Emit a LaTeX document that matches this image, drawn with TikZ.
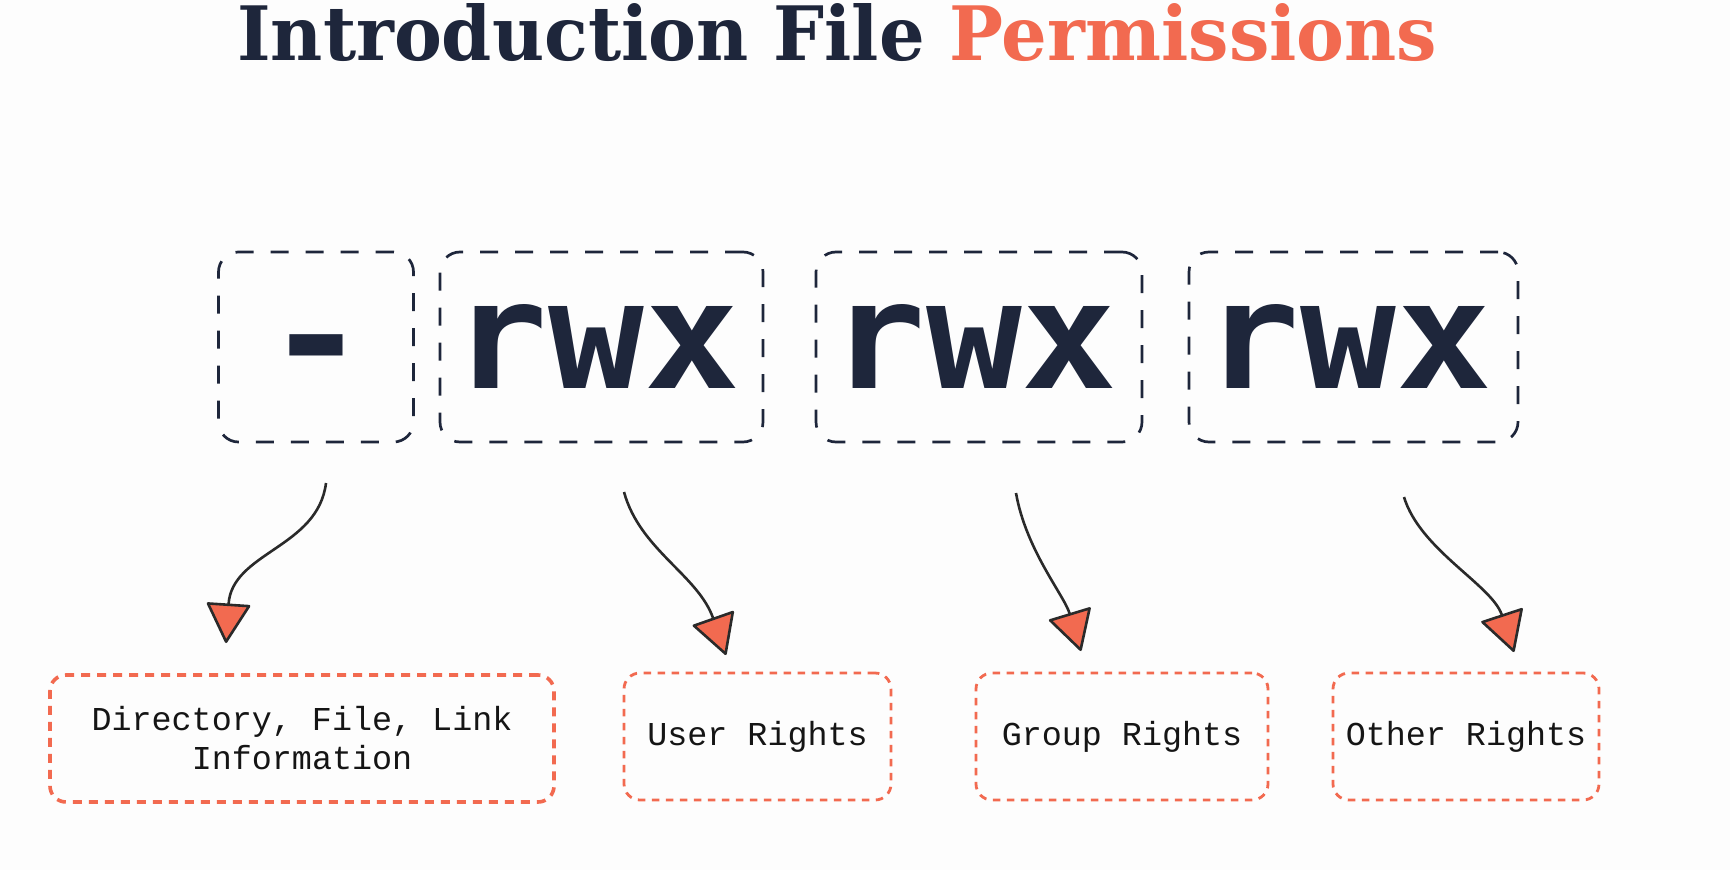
\documentclass[tikz,border=0pt]{standalone}
\usepackage{fontspec}
\usetikzlibrary{arrows.meta}
\newfontfamily\titlefont{DejaVu Serif}
\newfontfamily\codefont{DejaVu Sans Mono}
\newfontfamily\labelfont{Liberation Mono}
\definecolor{navy}{HTML}{1E263B}
\definecolor{coral}{HTML}{F26A50}
\definecolor{shaft}{HTML}{2A2A2A}
\definecolor{bgc}{HTML}{FDFDFD}
\definecolor{labeltext}{HTML}{151515}
\tikzset{
  permbox/.style={draw=navy, line width=2.7pt, dash pattern=on 18pt off 17pt,
    rounded corners=20pt, inner sep=0pt, minimum height=190pt,
    text height=82pt, text depth=0pt, text=navy,
    font=\codefont\bfseries\fontsize{150}{150}\selectfont},
  infobox/.style={draw=coral, line width=2.8pt, dash pattern=on 7.5pt off 6.5pt,
    rounded corners=16pt, inner sep=0pt, minimum height=127pt, text=labeltext,
    align=center, font=\labelfont\fontsize{33.4}{39}\selectfont},
  widebox/.style={line width=3.6pt, dash pattern=on 9pt off 7pt},
  pointer/.style={draw=shaft, line width=2.6pt,
    -{Triangle[length=41pt, width=45pt, round, fill=coral]}}
}
\begin{document}
\begin{tikzpicture}[x=1pt, y=-1pt]
\useasboundingbox (0,0) rectangle (1730,870);
\fill[bgc] (0,0) rectangle (1730,870);

\node[anchor=base west, inner sep=0pt] (title) at (237,60)
  {\resizebox{1200pt}{57pt}{\titlefont\bfseries\color{navy}Introduction File \textcolor{coral}{Permissions}}};

\node[permbox, minimum width=195pt] (type) at (316,347) {\scalebox{1.15}[1]{-}};
\node[permbox, minimum width=323pt] (user) at (601.5,347) {\hspace*{-10pt}\scalebox{1.06}[1]{rwx}};
\node[permbox, minimum width=326pt] (group) at (979,347) {\hspace*{-10pt}\scalebox{1.06}[1]{rwx}};
\node[permbox, minimum width=329pt] (other) at (1353.5,347) {\hspace*{-10pt}\scalebox{1.06}[1]{rwx}};

\node[infobox, widebox, minimum width=504pt] (typeinfo) at (302,738.5) {Directory, File, Link\\Information};
\node[infobox, minimum width=267pt] (userinfo) at (757.5,736.5) {User Rights};
\node[infobox, minimum width=292pt] (groupinfo) at (1122,736.5) {Group Rights};
\node[infobox, minimum width=266pt] (otherinfo) at (1466,736.5) {Other Rights};

\coordinate (a1s) at (326,483);
\coordinate (a1e) at (226,643);
\coordinate (a2s) at (624,492);
\coordinate (a2e) at (726,655);
\coordinate (a3s) at (1016,493);
\coordinate (a3e) at (1081,651);
\coordinate (a4s) at (1404,497);
\coordinate (a4e) at (1514,652);

\draw[pointer] (a1s) .. controls (318,548) and (232,552) .. (a1e);
\draw[pointer] (a2s) .. controls (640,550) and (698,575) .. (a2e);
\draw[pointer] (a3s) .. controls (1026,550) and (1064,595) .. (a3e);
\draw[pointer] (a4s) .. controls (1420,550) and (1492,585) .. (a4e);
\end{tikzpicture}
\end{document}
